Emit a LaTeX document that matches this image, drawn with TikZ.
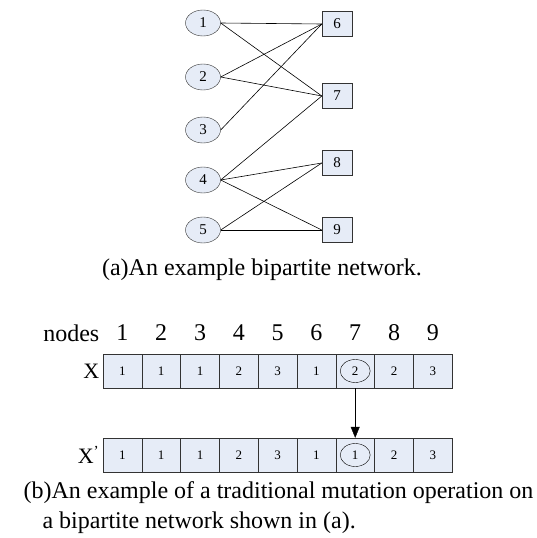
\documentclass[tikz,border=0pt]{standalone}
\usepackage{fontspec}
\setmainfont{Liberation Serif}
\usetikzlibrary{shapes.geometric,arrows.meta,calc}
\definecolor{cellblue}{RGB}{230,236,247}

\begin{document}
\begin{tikzpicture}[x=1pt,y=-1pt,
	vert/.style={ellipse,draw=black!80,fill=cellblue,minimum width=35pt,minimum height=26pt,inner sep=0pt,font=\fontsize{15}{15}\selectfont},
	grp/.style={rectangle,draw=black!80,fill=cellblue,minimum width=30pt,minimum height=25pt,inner sep=0pt,font=\fontsize{15}{15}\selectfont},
	cell/.style={rectangle,draw=black!80,fill=cellblue,minimum width=38.8pt,minimum height=34pt,inner sep=0pt,font=\fontsize{13}{13}\selectfont},
	big/.style={font=\fontsize{24}{30}\selectfont}]
	\useasboundingbox (0,0) rectangle (536,538);
	% (a) bipartite network
	\foreach \i/\y in {1/23,2/77,3/130,4/180,5/230}
		\node[vert] (v\i) at (203,\y) {\i};
	\foreach \i/\y in {6/24,7/96,8/163,9/230}
		\node[grp] (g\i) at (337,\y) {\i};
	\foreach \a/\b in {1/6,1/7,2/6,2/7,3/6,4/7,4/8,4/9,5/8,5/9}
		\draw[line width=0.6pt] (v\a.east) -- (g\b.west);
	\node[big] (capa) at (262,270) {(a)An example bipartite network.};
	% (b) mutation
	\foreach \v [count=\i] in {1,1,1,2,3,1,2,2,3} {
		\node[cell] (x\i) at ({103+38.8*(\i-0.5)},371) {\v};
		\node[big] (n\i) at ($(x\i.north)+(0,-21)$) {\i};
	}
	\foreach \v [count=\i] in {1,1,1,2,3,1,1,2,3}
		\node[cell] (y\i) at ({103+38.8*(\i-0.5)},455) {\v};
	\node[ellipse,draw,minimum width=30pt,minimum height=23pt] (xring) at (x7) {};
	\node[ellipse,draw,minimum width=30pt,minimum height=23pt] (yring) at (y7) {};
	\node[big,anchor=east] (nodes) at ($(n1.west)+(-10,0)$) {nodes};
	\node[font=\fontsize{22}{22}\selectfont,anchor=east] (xlab) at (x1.west) {X};
	\node[font=\fontsize{22}{22}\selectfont,anchor=east] (ylab) at (y1.west) {X\textsuperscript{'}};
	\draw[-{Triangle[width=9pt,length=11pt]}] (x7.south) -- (y7.north);
	\node[big,align=left,anchor=north west] (capb) at (20,478) {(b)An example of a traditional mutation operation on\\\hspace{19pt}a bipartite network shown in (a).};
\end{tikzpicture}
\end{document}
